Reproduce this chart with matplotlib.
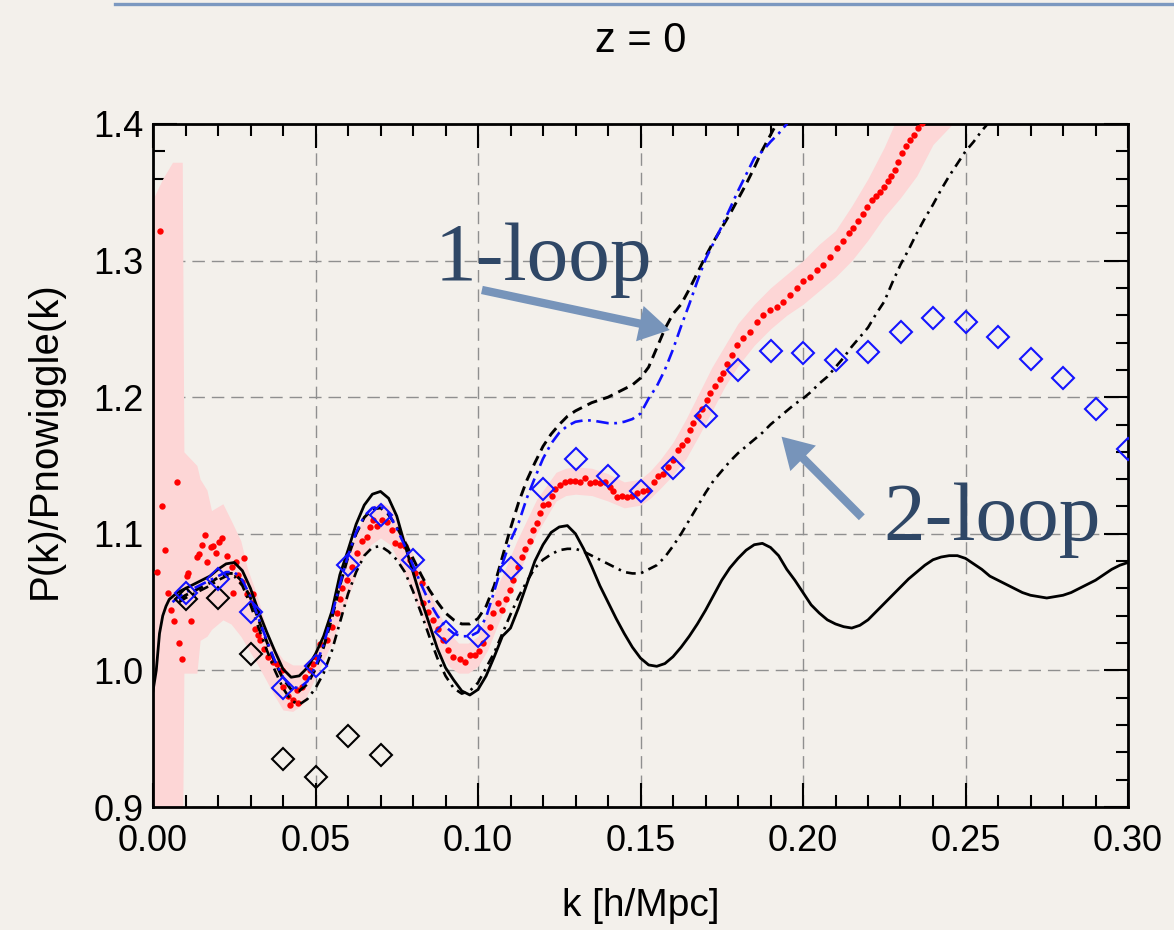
import matplotlib
matplotlib.use("Agg")
import matplotlib.pyplot as plt
from matplotlib.ticker import MultipleLocator, FormatStrFormatter
from matplotlib.patches import FancyArrowPatch
from matplotlib.lines import Line2D

plt.rcParams["font.family"] = ["Liberation Sans", "DejaVu Sans"]
plt.rcParams["lines.scale_dashes"] = False

# ---------------- N-body measurement (red points) ----------------
k_nbody = [
    0.0011, 0.0022, 0.0027, 0.0037, 0.0045, 0.0055, 0.0065, 0.0073, 0.0081, 0.0090,
    0.0104, 0.0109, 0.0117, 0.0134, 0.0142, 0.0152, 0.0160, 0.0167, 0.0178, 0.0186,
    0.0194, 0.0203, 0.0211, 0.0229, 0.0242, 0.0247, 0.0254, 0.0262, 0.0273, 0.0280,
    0.0288, 0.0304, 0.0309, 0.0314, 0.0322, 0.0330, 0.0343, 0.0355, 0.0370, 0.0380,
    0.0396, 0.0401, 0.0416, 0.0422, 0.0432, 0.0442, 0.0447, 0.0457, 0.0468, 0.0483,
    0.0493, 0.0503, 0.0514, 0.0534, 0.0550, 0.0565, 0.0575, 0.0580, 0.0596, 0.0611,
    0.0627, 0.0642, 0.0658, 0.0668, 0.0678, 0.0690, 0.0704, 0.0719, 0.0734, 0.0745,
    0.0760, 0.0775, 0.0790, 0.0806, 0.0827, 0.0832, 0.0847, 0.0862, 0.0878, 0.0893,
    0.0909, 0.0924, 0.0945, 0.0960, 0.0975, 0.0990, 0.1003, 0.1016, 0.1037, 0.1047,
    0.1062, 0.1073, 0.1085, 0.1098, 0.1109, 0.1124, 0.1134, 0.1145, 0.1160, 0.1170,
    0.1180, 0.1190, 0.1200, 0.1216, 0.1227, 0.1237, 0.1252, 0.1268, 0.1283, 0.1298,
    0.1314, 0.1329, 0.1345, 0.1360, 0.1375, 0.1390, 0.1406, 0.1416, 0.1427, 0.1442,
    0.1457, 0.1473, 0.1488, 0.1508, 0.1524, 0.1540, 0.1555, 0.1570, 0.1586, 0.1601,
    0.1616, 0.1627, 0.1642, 0.1652, 0.1663, 0.1678, 0.1688, 0.1704, 0.1714, 0.1729,
    0.1745, 0.1755, 0.1765, 0.1780, 0.1796, 0.1816, 0.1837, 0.1857, 0.1878, 0.1898,
    0.1919, 0.1939, 0.1960, 0.1980, 0.2001, 0.2022, 0.2042, 0.2062, 0.2083, 0.2104,
    0.2124, 0.2140, 0.2155, 0.2170, 0.2186, 0.2198, 0.2211, 0.2224, 0.2237, 0.2250,
    0.2262, 0.2272, 0.2283, 0.2293, 0.2304, 0.2316, 0.2329, 0.2342, 0.2355, 0.2365,
]
p_nbody = [
    1.072, 1.322, 1.120, 1.088, 1.057, 1.044, 1.036, 1.138, 1.020, 1.008,
    1.069, 1.071, 1.036, 1.083, 1.085, 1.092, 1.099, 1.079, 1.090, 1.091,
    1.086, 1.094, 1.097, 1.084, 1.076, 1.057, 1.079, 1.070, 1.065, 1.082,
    1.056, 1.049, 1.056, 1.030, 1.026, 1.022, 1.016, 1.010, 1.006, 1.005,
    1.000, 0.988, 0.981, 0.975, 0.978, 0.986, 0.976, 0.988, 0.995, 1.000,
    1.005, 1.010, 1.019, 1.022, 1.032, 1.042, 1.052, 1.060, 1.066, 1.076,
    1.086, 1.095, 1.098, 1.105, 1.110, 1.106, 1.110, 1.109, 1.103, 1.093,
    1.092, 1.091, 1.081, 1.071, 1.064, 1.049, 1.043, 1.037, 1.030, 1.022,
    1.015, 1.010, 1.008, 1.006, 1.011, 1.011, 1.014, 1.020, 1.032, 1.042,
    1.049, 1.044, 1.052, 1.059, 1.066, 1.076, 1.083, 1.089, 1.095, 1.103,
    1.108, 1.115, 1.121, 1.122, 1.128, 1.133, 1.136, 1.138, 1.139, 1.139,
    1.138, 1.141, 1.137, 1.138, 1.137, 1.138, 1.134, 1.131, 1.127, 1.128,
    1.127, 1.128, 1.130, 1.131, 1.132, 1.138, 1.142, 1.144, 1.149, 1.154,
    1.161, 1.165, 1.169, 1.176, 1.181, 1.186, 1.191, 1.198, 1.203, 1.208,
    1.213, 1.218, 1.224, 1.231, 1.238, 1.243, 1.248, 1.255, 1.260, 1.264,
    1.266, 1.270, 1.275, 1.280, 1.285, 1.288, 1.293, 1.297, 1.303, 1.309,
    1.314, 1.320, 1.324, 1.329, 1.334, 1.339, 1.344, 1.347, 1.350, 1.354,
    1.358, 1.362, 1.366, 1.372, 1.379, 1.384, 1.388, 1.392, 1.397, 1.401,
]

# error band of the N-body measurement
k_band = [
    0.0000, 0.0030, 0.0060, 0.0090, 0.0095, 0.0135, 0.0145, 0.0166, 0.0180, 0.0215,
    0.0240, 0.0270, 0.0290, 0.0320, 0.0350, 0.0370, 0.0400, 0.0430, 0.0460, 0.0490,
    0.0520, 0.0550, 0.0580, 0.0610, 0.0640, 0.0670, 0.0700, 0.0730, 0.0760, 0.0790,
    0.0820, 0.0850, 0.0880, 0.0910, 0.0940, 0.0970, 0.1000, 0.1030, 0.1060, 0.1090,
    0.1120, 0.1150, 0.1180, 0.1210, 0.1240, 0.1270, 0.1300, 0.1350, 0.1400, 0.1450,
    0.1500, 0.1530, 0.1560, 0.1600, 0.1640, 0.1680, 0.1720, 0.1760, 0.1800, 0.1850,
    0.1900, 0.1950, 0.2000, 0.2050, 0.2100, 0.2150, 0.2200, 0.2250, 0.2300, 0.2350,
    0.2400, 0.2460, 0.2500,
]
band_lo = [
    0.850, 0.850, 0.850, 0.850, 0.998, 0.998, 1.022, 1.025, 1.030, 1.037,
    1.034, 1.025, 1.017, 1.005, 0.992, 0.983, 0.971, 0.970, 0.975, 0.990,
    1.005, 1.020, 1.040, 1.060, 1.080, 1.092, 1.097, 1.092, 1.078, 1.062,
    1.043, 1.027, 1.013, 1.003, 0.998, 0.998, 1.003, 1.015, 1.033, 1.050,
    1.068, 1.085, 1.100, 1.112, 1.124, 1.128, 1.129, 1.128, 1.124, 1.119,
    1.121, 1.126, 1.133, 1.143, 1.155, 1.172, 1.190, 1.208, 1.223, 1.238,
    1.250, 1.260, 1.268, 1.278, 1.288, 1.300, 1.315, 1.332, 1.346, 1.362,
    1.385, 1.400, 1.420,
]
band_hi = [
    1.345, 1.360, 1.372, 1.372, 1.160, 1.150, 1.140, 1.132, 1.117, 1.122,
    1.110, 1.095, 1.075, 1.055, 1.030, 1.018, 1.008, 1.004, 1.004, 1.010,
    1.025, 1.045, 1.070, 1.092, 1.108, 1.120, 1.123, 1.120, 1.105, 1.090,
    1.075, 1.058, 1.042, 1.028, 1.020, 1.020, 1.025, 1.045, 1.062, 1.078,
    1.095, 1.110, 1.125, 1.135, 1.145, 1.148, 1.149, 1.148, 1.144, 1.138,
    1.140, 1.146, 1.154, 1.167, 1.184, 1.203, 1.222, 1.238, 1.254, 1.268,
    1.280, 1.290, 1.300, 1.312, 1.322, 1.340, 1.360, 1.383, 1.410, 1.430,
    1.450, 1.470, 1.480,
]

# ---------------- linear theory (solid black) ----------------
k_lin = [
    0.0000, 0.0010, 0.0020, 0.0030, 0.0040, 0.0050, 0.0075, 0.0100, 0.0125, 0.0150,
    0.0175, 0.0200, 0.0225, 0.0250, 0.0275, 0.0300, 0.0325, 0.0350, 0.0375, 0.0400,
    0.0425, 0.0450, 0.0475, 0.0500, 0.0525, 0.0550, 0.0575, 0.0600, 0.0625, 0.0650,
    0.0675, 0.0700, 0.0725, 0.0750, 0.0775, 0.0800, 0.0825, 0.0850, 0.0875, 0.0900,
    0.0925, 0.0950, 0.0975, 0.1000, 0.1025, 0.1050, 0.1075, 0.1100, 0.1125, 0.1150,
    0.1175, 0.1200, 0.1225, 0.1250, 0.1275, 0.1300, 0.1325, 0.1350, 0.1375, 0.1400,
    0.1425, 0.1450, 0.1475, 0.1500, 0.1525, 0.1550, 0.1575, 0.1600, 0.1625, 0.1650,
    0.1675, 0.1700, 0.1725, 0.1750, 0.1775, 0.1800, 0.1825, 0.1850, 0.1875, 0.1900,
    0.1925, 0.1950, 0.1975, 0.2000, 0.2025, 0.2050, 0.2075, 0.2100, 0.2125, 0.2150,
    0.2175, 0.2200, 0.2225, 0.2250, 0.2275, 0.2300, 0.2325, 0.2350, 0.2375, 0.2400,
    0.2425, 0.2450, 0.2475, 0.2500, 0.2525, 0.2550, 0.2575, 0.2600, 0.2625, 0.2650,
    0.2675, 0.2700, 0.2725, 0.2750, 0.2775, 0.2800, 0.2825, 0.2850, 0.2875, 0.2900,
    0.2925, 0.2950, 0.2975, 0.3000,
]
p_lin = [
    0.985, 1.000, 1.027, 1.040, 1.047, 1.052, 1.057, 1.060, 1.063, 1.066,
    1.069, 1.074, 1.078, 1.079, 1.073, 1.060, 1.043, 1.028, 1.014, 1.001,
    0.995, 0.996, 1.002, 1.012, 1.025, 1.043, 1.070, 1.088, 1.107, 1.121,
    1.129, 1.131, 1.126, 1.113, 1.092, 1.072, 1.052, 1.034, 1.016, 1.002,
    0.993, 0.985, 0.982, 0.986, 0.996, 1.010, 1.025, 1.031, 1.046, 1.063,
    1.080, 1.092, 1.101, 1.105, 1.106, 1.100, 1.089, 1.076, 1.062, 1.050,
    1.038, 1.027, 1.017, 1.009, 1.004, 1.003, 1.005, 1.010, 1.017, 1.025,
    1.034, 1.044, 1.055, 1.066, 1.075, 1.082, 1.088, 1.092, 1.093, 1.090,
    1.084, 1.074, 1.066, 1.057, 1.048, 1.042, 1.037, 1.034, 1.032, 1.031,
    1.033, 1.037, 1.043, 1.049, 1.055, 1.061, 1.067, 1.072, 1.077, 1.081,
    1.083, 1.084, 1.084, 1.082, 1.078, 1.074, 1.069, 1.066, 1.063, 1.060,
    1.057, 1.055, 1.054, 1.053, 1.054, 1.055, 1.057, 1.060, 1.063, 1.066,
    1.070, 1.074, 1.077, 1.079,
]

# ---------------- 1-loop (black dashed) ----------------
k_1loop = [
    0.0080, 0.0100, 0.0125, 0.0150, 0.0175, 0.0200, 0.0225, 0.0250, 0.0275, 0.0300,
    0.0325, 0.0350, 0.0375, 0.0400, 0.0425, 0.0450, 0.0475, 0.0500, 0.0525, 0.0550,
    0.0575, 0.0600, 0.0625, 0.0650, 0.0675, 0.0700, 0.0725, 0.0750, 0.0775, 0.0800,
    0.0825, 0.0850, 0.0875, 0.0900, 0.0925, 0.0950, 0.0975, 0.1000, 0.1025, 0.1050,
    0.1075, 0.1100, 0.1125, 0.1150, 0.1175, 0.1200, 0.1225, 0.1250, 0.1275, 0.1300,
    0.1325, 0.1350, 0.1375, 0.1400, 0.1425, 0.1450, 0.1475, 0.1500, 0.1525, 0.1550,
    0.1575, 0.1600, 0.1625, 0.1650, 0.1675, 0.1700, 0.1725, 0.1750, 0.1775, 0.1800,
    0.1825, 0.1850, 0.1875, 0.1900, 0.1925,
]
p_1loop = [
    1.052, 1.055, 1.058, 1.061, 1.064, 1.068, 1.071, 1.071, 1.065, 1.053,
    1.037, 1.021, 1.006, 0.994, 0.986, 0.985, 0.990, 1.001, 1.017, 1.038,
    1.062, 1.083, 1.100, 1.112, 1.118, 1.119, 1.114, 1.105, 1.094, 1.082,
    1.070, 1.059, 1.050, 1.042, 1.037, 1.034, 1.034, 1.038, 1.047, 1.062,
    1.083, 1.104, 1.123, 1.139, 1.152, 1.164, 1.173, 1.180, 1.186, 1.190,
    1.193, 1.196, 1.198, 1.200, 1.203, 1.206, 1.209, 1.214, 1.222, 1.236,
    1.250, 1.261, 1.268, 1.279, 1.291, 1.303, 1.314, 1.324, 1.334, 1.345,
    1.356, 1.368, 1.381, 1.392, 1.403,
]

# ---------------- 1-loop variant (blue dash-dot) ----------------
k_1loop_b = [
    0.0060, 0.0080, 0.0100, 0.0125, 0.0150, 0.0175, 0.0200, 0.0225, 0.0250, 0.0275,
    0.0300, 0.0325, 0.0350, 0.0375, 0.0400, 0.0425, 0.0450, 0.0475, 0.0500, 0.0525,
    0.0550, 0.0575, 0.0600, 0.0625, 0.0650, 0.0675, 0.0700, 0.0725, 0.0750, 0.0775,
    0.0800, 0.0825, 0.0850, 0.0875, 0.0900, 0.0925, 0.0950, 0.0975, 0.1000, 0.1025,
    0.1050, 0.1075, 0.1100, 0.1125, 0.1150, 0.1175, 0.1200, 0.1225, 0.1250, 0.1275,
    0.1300, 0.1325, 0.1350, 0.1375, 0.1400, 0.1425, 0.1450, 0.1475, 0.1500, 0.1525,
    0.1550, 0.1575, 0.1600, 0.1625, 0.1650, 0.1675, 0.1700, 0.1725, 0.1750, 0.1775,
    0.1800, 0.1825, 0.1850, 0.1875, 0.1900, 0.1925, 0.1950, 0.1970,
]
p_1loop_b = [
    1.050, 1.054, 1.057, 1.060, 1.063, 1.066, 1.069, 1.072, 1.072, 1.066,
    1.054, 1.038, 1.022, 1.007, 0.995, 0.988, 0.987, 0.992, 1.003, 1.019,
    1.040, 1.063, 1.084, 1.101, 1.113, 1.119, 1.120, 1.115, 1.104, 1.091,
    1.077, 1.063, 1.050, 1.040, 1.032, 1.027, 1.025, 1.025, 1.028, 1.039,
    1.058, 1.078, 1.095, 1.108, 1.126, 1.141, 1.155, 1.166, 1.174, 1.179,
    1.182, 1.183, 1.183, 1.182, 1.181, 1.181, 1.182, 1.184, 1.188, 1.199,
    1.208, 1.220, 1.235, 1.252, 1.268, 1.285, 1.301, 1.313, 1.325, 1.338,
    1.351, 1.363, 1.375, 1.380, 1.387, 1.393, 1.400, 1.410,
]

# ---------------- 2-loop (black dash-dot) ----------------
k_2loop = [
    0.0080, 0.0100, 0.0125, 0.0150, 0.0175, 0.0200, 0.0225, 0.0250, 0.0275, 0.0300,
    0.0325, 0.0350, 0.0375, 0.0400, 0.0425, 0.0450, 0.0475, 0.0500, 0.0525, 0.0550,
    0.0575, 0.0600, 0.0625, 0.0650, 0.0675, 0.0700, 0.0725, 0.0750, 0.0775, 0.0800,
    0.0825, 0.0850, 0.0875, 0.0900, 0.0925, 0.0950, 0.0975, 0.1000, 0.1025, 0.1050,
    0.1075, 0.1100, 0.1125, 0.1150, 0.1175, 0.1200, 0.1225, 0.1250, 0.1275, 0.1300,
    0.1325, 0.1350, 0.1375, 0.1400, 0.1425, 0.1450, 0.1475, 0.1500, 0.1525, 0.1550,
    0.1575, 0.1600, 0.1625, 0.1650, 0.1675, 0.1700, 0.1725, 0.1750, 0.1775, 0.1800,
    0.1825, 0.1850, 0.1875, 0.1900, 0.1925, 0.1950, 0.1975, 0.2000, 0.2025, 0.2050,
    0.2075, 0.2100, 0.2125, 0.2150, 0.2175, 0.2200, 0.2225, 0.2250, 0.2275, 0.2300,
    0.2325, 0.2350, 0.2375, 0.2400, 0.2425, 0.2450, 0.2475, 0.2500, 0.2525, 0.2550,
    0.2575,
]
p_2loop = [
    1.050, 1.053, 1.056, 1.059, 1.062, 1.066, 1.069, 1.069, 1.062, 1.048,
    1.031, 1.015, 1.000, 0.987, 0.978, 0.975, 0.979, 0.987, 0.998, 1.014,
    1.035, 1.056, 1.072, 1.084, 1.090, 1.091, 1.087, 1.081, 1.072, 1.058,
    1.042, 1.025, 1.009, 0.996, 0.987, 0.983, 0.985, 0.991, 1.002, 1.013,
    1.027, 1.041, 1.054, 1.065, 1.075, 1.081, 1.085, 1.088, 1.089, 1.089,
    1.087, 1.084, 1.081, 1.078, 1.075, 1.072, 1.071, 1.071, 1.074, 1.077,
    1.083, 1.091, 1.100, 1.110, 1.120, 1.130, 1.139, 1.146, 1.153, 1.159,
    1.164, 1.169, 1.174, 1.180, 1.185, 1.190, 1.195, 1.199, 1.204, 1.210,
    1.215, 1.222, 1.229, 1.237, 1.244, 1.251, 1.261, 1.270, 1.284, 1.297,
    1.308, 1.320, 1.331, 1.341, 1.352, 1.362, 1.371, 1.380, 1.387, 1.395,
    1.402,
]

# ---------------- diamonds ----------------
k_diam_blue = [0.01, 0.02, 0.03, 0.04, 0.05, 0.06, 0.07, 0.08, 0.09, 0.10,
               0.11, 0.12, 0.13, 0.14, 0.15, 0.16, 0.17, 0.18, 0.19, 0.20,
               0.21, 0.22, 0.23, 0.24, 0.25, 0.26, 0.27, 0.28, 0.29, 0.30]
p_diam_blue = [1.057, 1.067, 1.043, 0.987, 1.003, 1.077, 1.114, 1.081, 1.028, 1.025,
               1.075, 1.133, 1.155, 1.142, 1.131, 1.148, 1.186, 1.220, 1.234, 1.232,
               1.227, 1.233, 1.248, 1.258, 1.255, 1.244, 1.228, 1.214, 1.191, 1.162]
k_diam_black = [0.01, 0.02, 0.03, 0.04, 0.05, 0.06, 0.07]
p_diam_black = [1.052, 1.053, 1.012, 0.935, 0.922, 0.952, 0.938]

# ---------------- figure ----------------
BG = "#f3f0eb"
fig = plt.figure(figsize=(11.74, 9.30), dpi=100, facecolor=BG)
ax = fig.add_axes([153 / 1174, 1 - 807 / 930, 975 / 1174, 683 / 930])
ax.set_facecolor("none")

# header rule of the slide
fig.add_artist(Line2D([115 / 1174, 1.0], [1 - 4 / 930, 1 - 4 / 930],
                      transform=fig.transFigure, color="#7b98c0", lw=2.4))

ax.fill_between(k_band, band_lo, band_hi, color="#fdd6d6", lw=0, zorder=1)
ax.plot(k_nbody, p_nbody, "o", color="#ff0000", ms=4.6, mew=0, zorder=3)

ax.plot(k_lin, p_lin, color="black", lw=2.0, zorder=4)
ax.plot(k_1loop, p_1loop, color="black", lw=2.1, ls=(0, (7.5, 4.5)), zorder=4)
ax.plot(k_1loop_b, p_1loop_b, color="#1010ff", lw=1.9, ls=(0, (9, 4, 2, 4)), zorder=4)
ax.plot(k_2loop, p_2loop, color="black", lw=1.9, ls=(0, (7, 4, 1.8, 4)), zorder=4)

ax.plot(k_diam_black, p_diam_black, "D", ms=11.2, mfc="none", mec="black", mew=1.5, zorder=5)
ax.plot(k_diam_blue, p_diam_blue, "D", ms=11.2, mfc="none", mec="#1414ff", mew=1.5, zorder=5)

ax.set_xlim(0.0, 0.30)
ax.set_ylim(0.9, 1.4)
ax.xaxis.set_major_locator(MultipleLocator(0.05))
ax.xaxis.set_minor_locator(MultipleLocator(0.01))
ax.yaxis.set_major_locator(MultipleLocator(0.1))
ax.yaxis.set_minor_locator(MultipleLocator(0.02))
ax.xaxis.set_major_formatter(FormatStrFormatter("%.2f"))
ax.yaxis.set_major_formatter(FormatStrFormatter("%.1f"))

ax.tick_params(which="both", direction="in", top=True, right=True, width=1.5,
               colors="black", labelsize=26)
ax.tick_params(which="major", length=17)
ax.tick_params(which="minor", length=8.5)
ax.tick_params(axis="x", pad=12)
ax.tick_params(axis="y", pad=7)
for sp in ax.spines.values():
    sp.set_linewidth(2.0)
    sp.set_color("black")

ax.set_axisbelow(True)
ax.grid(which="major", color="#8f8f8f", lw=1.0, ls=(0, (9, 5)))

ax.set_xlabel("k [h/Mpc]", fontsize=28)
ax.xaxis.label.set_va("center")
ax.xaxis.set_label_coords(0.5, -(906 - 807) / 683)
ax.set_ylabel("P(k)/Pnowiggle(k)", fontsize=29)
ax.yaxis.label.set_va("center")
ax.yaxis.set_label_coords(-(153 - 45) / 975, (807 - 440) / 683)

fig.text(640.5 / 1174, 1 - 41 / 930, "z = 0", ha="center", va="center", fontsize=30)

# annotations
TXT = "#2f4766"
ARR = "#7794ba"
serif = ["Liberation Serif", "DejaVu Serif"]
ax.text(0.1200, 1.2858, "1-loop", family=serif, fontsize=60, color=TXT,
        ha="center", va="baseline", zorder=6)
ax.text(0.2583, 1.0955, "2-loop", family=serif, fontsize=60, color=TXT,
        ha="center", va="baseline", zorder=6, clip_on=False)

arrow_style = "simple,head_length=22,head_width=26,tail_width=6"
ax.add_patch(FancyArrowPatch((0.1012, 1.2785), (0.1590, 1.2492), arrowstyle=arrow_style,
                             mutation_scale=1, color=ARR, lw=0, shrinkA=0, shrinkB=0, zorder=6))
ax.add_patch(FancyArrowPatch((0.2181, 1.1121), (0.1934, 1.1711), arrowstyle=arrow_style,
                             mutation_scale=1, color=ARR, lw=0, shrinkA=0, shrinkB=0, zorder=6))

fig.savefig("out.png", dpi=100, facecolor=BG)
